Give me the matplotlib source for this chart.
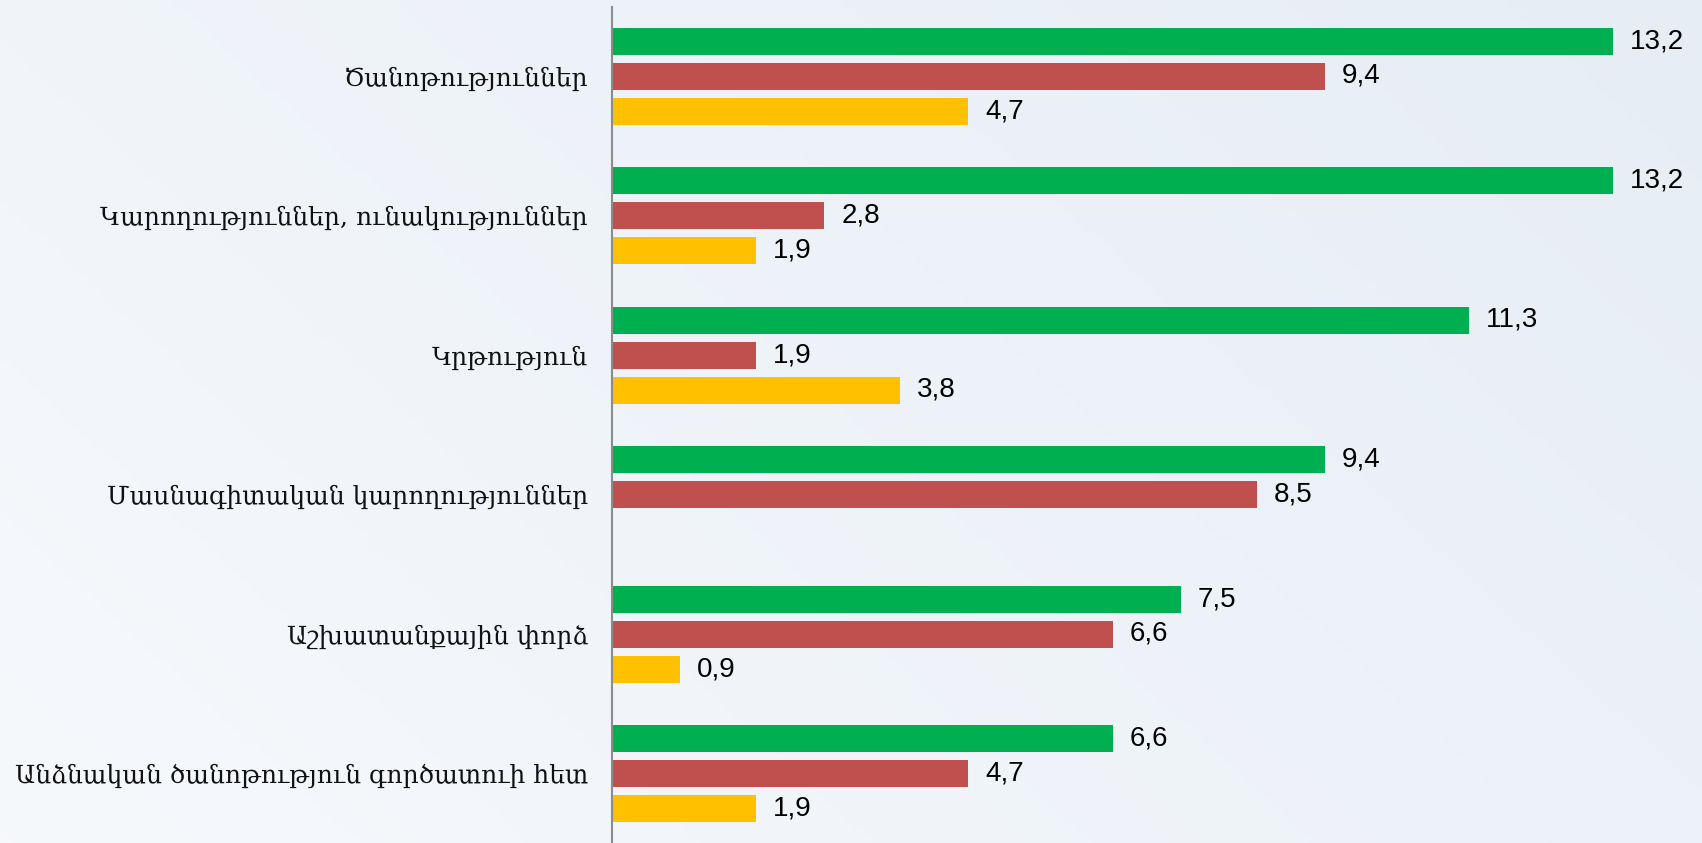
import numpy as np
from matplotlib import pyplot as plt

categories = ['Ծանոթություններ',
              'Կարողություններ, ունակություններ',
              'Կրթություն',
              'Մասնագիտական կարողություններ',
              'Աշխատանքային փորձ',
              'Անձնական ծանոթություն գործատուի հետ']
green_vals = [13.2, 13.2, 11.3, 9.4, 7.5, 6.6]
red_vals = [9.4, 2.8, 1.9, 8.5, 6.6, 4.7]
yellow_vals = [4.7, 1.9, 3.8, None, 0.9, 1.9]

colors = ['#00B050', '#C0504D', '#FFC000']
label_font = ['DejaVu Serif', 'DejaVu Sans']


def main():
    W, H = 1702, 843
    fig = plt.figure(figsize=(W / 100, H / 100), dpi=100)

    # soft background gradient
    bg = fig.add_axes([0, 0, 1, 1])
    gx = np.linspace(0, 1, 256)
    gy = np.linspace(0, 1, 128)
    grad = 0.65 * gx[None, :] + 0.35 * gy[:, None]
    c0 = np.array([0.965, 0.976, 0.988])
    c1 = np.array([0.905, 0.930, 0.962])
    img = c0[None, None, :] * (1 - grad[..., None]) + c1[None, None, :] * grad[..., None]
    bg.imshow(img, aspect='auto', extent=[0, 1, 0, 1], origin='lower')
    bg.axis('off')

    axis_x = 612
    px_per_unit = (1613 - axis_x) / 13.2
    top_px, first_px, spacing = 7, 76, 139.5

    ax = fig.add_axes([axis_x / W, 0, 1 - axis_x / W, 1 - top_px / H])
    ax.patch.set_alpha(0)

    n = len(categories)
    y = np.arange(n)
    h = 27 / spacing
    step = 35 / spacing
    series = [green_vals, red_vals, yellow_vals]
    for k, vals in enumerate(series):
        for i, v in enumerate(vals):
            if v is None:
                continue
            yy = y[i] + (k - 1) * step
            ax.barh(yy, v, height=h, color=colors[k], edgecolor='none')
            ax.text(v + 17 / px_per_unit, yy, ('%.1f' % v).replace('.', ','),
                    va='center', ha='left', fontsize=20, clip_on=False,
                    family=['Liberation Sans', 'DejaVu Sans'], color='black')

    ax.set_xlim(0, (W - axis_x) / px_per_unit)
    ax.set_ylim((H - first_px) / spacing, (top_px - first_px) / spacing)
    ax.set_xticks([])
    for s in ['top', 'right', 'bottom']:
        ax.spines[s].set_visible(False)
    ax.spines['left'].set_color('#8c8c8c')
    ax.spines['left'].set_linewidth(1.5)

    # fit category label size so the longest one spans about 572 px
    r = fig.canvas.get_renderer()
    probe = fig.text(0, 0, categories[-1], fontsize=20, family=label_font)
    wpx = probe.get_window_extent(renderer=r).width
    probe.remove()
    fs = min(20 * 572 / wpx, 20)

    ax.set_yticks(y)
    ax.set_yticklabels(categories, fontsize=fs, family=label_font, color='#111111')
    ax.tick_params(axis='y', length=0, pad=24 * 72 / 100)

    fig.savefig('out.png', dpi=100)


if __name__ == '__main__':
    main()
